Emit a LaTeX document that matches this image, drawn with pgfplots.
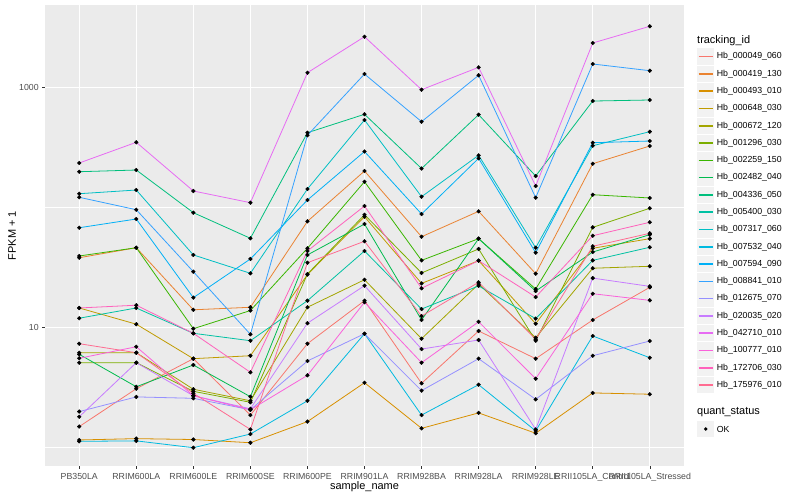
\documentclass[border=0pt]{standalone}
\usepackage{fontspec}
\setmainfont{Liberation Sans}
\usepackage{pgfplots}
\pgfplotsset{compat=1.18}
\usepackage{pgfplotstable}

% ggplot hue palette, 20 levels
\definecolor{c1}{HTML}{F8766D}
\definecolor{c2}{HTML}{EA8331}
\definecolor{c3}{HTML}{D89000}
\definecolor{c4}{HTML}{C09B00}
\definecolor{c5}{HTML}{A3A500}
\definecolor{c6}{HTML}{7CAE00}
\definecolor{c7}{HTML}{39B600}
\definecolor{c8}{HTML}{00BB4E}
\definecolor{c9}{HTML}{00BF7D}
\definecolor{c10}{HTML}{00C1A3}
\definecolor{c11}{HTML}{00BFC4}
\definecolor{c12}{HTML}{00BAE0}
\definecolor{c13}{HTML}{00B0F6}
\definecolor{c14}{HTML}{35A2FF}
\definecolor{c15}{HTML}{9590FF}
\definecolor{c16}{HTML}{C77CFF}
\definecolor{c17}{HTML}{E76BF3}
\definecolor{c18}{HTML}{FA62DB}
\definecolor{c19}{HTML}{FF62BC}
\definecolor{c20}{HTML}{FF6C91}
\definecolor{panel}{HTML}{EBEBEB}
\definecolor{keybg}{HTML}{F2F2F2}
\definecolor{ticktxt}{HTML}{4D4D4D}
\definecolor{tickcol}{HTML}{333333}

% FPKM + 1, one column per tracking_id (s1 = Hb_000049_060 ... s20 = Hb_175976_010)
\pgfplotstableread{
x s1 s2 s3 s4 s5 s6 s7 s8 s9 s10 s11 s12 s13 s14 s15 s16 s17 s18 s19 s20
0 1.50 38.3 1.16 14.6 6.19 5.11 39.6 6.00 199.5 12.0 130.8 1.13 68.1 122.1 2.00 1.81 235.8 5.56 14.6 7.36
1 3.10 46.4 1.19 10.7 6.19 5.11 46.4 3.22 206.1 14.6 140.4 1.14 80.5 96.2 2.65 5.11 350.8 6.94 15.4 6.19
2 5.52 14.1 1.17 5.52 3.07 2.95 9.81 4.89 90.9 8.98 40.4 1.00 17.8 29.3 2.58 2.71 137.8 2.71 8.98 2.84
3 1.87 14.8 1.10 5.84 2.46 2.39 13.9 2.66 55.6 7.79 28.4 1.30 37.4 8.81 2.07 2.11 110.1 2.07 4.25 1.42
4 7.36 77.0 1.65 27.7 14.8 28.0 45.9 40.4 421.7 16.8 143.2 2.46 115.9 401.3 5.28 10.9 1333 4.01 43.6 34.8
5 16.8 202.2 3.48 84.1 25.1 87.4 164.7 73.1 600.3 43.6 538 8.91 294 1300 8.91 22.4 2661 16.3 103.3 52.5
6 3.44 57.3 1.45 23.4 8.10 28.6 36.4 11.6 212.1 14.3 123.5 1.87 88.6 520.9 2.99 6.64 962.3 5.11 21.3 12.5
7 9.39 93.3 1.95 36.2 23.1 45.3 55.2 55.2 595.7 22.3 273.3 3.35 258 1269 5.52 7.90 1479 11.2 36.2 23.9
8 5.52 28.2 1.32 10.8 8.25 7.79 21.0 20.2 183.7 11.9 46.4 1.38 42.2 121.2 2.53 1.42 151.6 3.76 18.0 8.00
9 11.6 232.6 2.86 45.9 31.3 68.6 128.3 42.7 774.5 36.4 328.6 8.53 348 1576 5.84 25.9 2358 19.2 58.4 47.7
10 21.7 326.7 2.79 55.2 32.5 98.9 120.5 59.6 789.8 46.8 429.9 5.62 359.5 1386 7.75 22.1 3249 16.9 75.6 61.2
}\expr

\begin{document}
\begin{tikzpicture}[x=1bp,y=1bp]
\useasboundingbox (0,0) rectangle (800,500);
\begin{axis}[
  at={(45bp,34bp)}, anchor=south west,
  scale only axis, width=639bp, height=461bp,
  xmin=-0.6, xmax=10.6,
  ymode=log, ymin=0.704, ymax=4890,
  axis background/.style={fill=panel},
  axis line style={draw=none},
  xtick={0,...,10},
  xticklabels={PB350LA,RRIM600LA,RRIM600LE,RRIM600SE,RRIM600PE,RRIM901LA,RRIM928BA,RRIM928LA,RRIM928LE,RRII105LA\_Control,RRII105LA\_Stressed},
  ytick={10,1000}, yticklabels={10,1000},
  minor ytick={1,100},
  grid=both,
  major grid style={white, line width=1.1pt},
  minor grid style={white, line width=0.55pt},
  tick pos=left, tick align=outside,
  major tick length=2.75pt, minor tick length=0pt,
  tick style={tickcol, line width=0.5pt},
  ticklabel style={font=\fontsize{8.8}{10}\selectfont, text=ticktxt},
  xticklabel style={yshift=-1pt},
  xlabel={sample\_name}, ylabel={FPKM + 1},
  every axis x label/.style={at={(rel axis cs:0.5,0)}, anchor=center, yshift=-21bp, font=\fontsize{11}{13}\selectfont},
  every axis y label/.style={at={(axis description cs:-0.0516,0.5)}, anchor=center, rotate=90, font=\fontsize{11}{13}\selectfont},
]
\pgfplotsinvokeforeach{1,...,20}{
  \addplot[color=c#1, line width=0.8pt, no marks] table[x=x, y=s#1] {\expr};
}
\pgfplotsinvokeforeach{1,...,20}{
  \addplot[only marks, mark=*, mark size=1.9pt, black] table[x=x, y=s#1] {\expr};
}
\end{axis}

% legend: tracking_id
\node[anchor=west, font=\fontsize{11}{13}\selectfont, inner sep=0] at (697,459.3) {tracking\_id};
\foreach \i/\lab in {1/Hb\_000049\_060, 2/Hb\_000419\_130, 3/Hb\_000493\_010, 4/Hb\_000648\_030,
  5/Hb\_000672\_120, 6/Hb\_001296\_030, 7/Hb\_002259\_150, 8/Hb\_002482\_040, 9/Hb\_004336\_050,
  10/Hb\_005400\_030, 11/Hb\_007317\_060, 12/Hb\_007532\_040, 13/Hb\_007594\_090, 14/Hb\_008841\_010,
  15/Hb\_012675\_070, 16/Hb\_020035\_020, 17/Hb\_042710\_010, 18/Hb\_100777\_010, 19/Hb\_172706\_030,
  20/Hb\_175976\_010} {
  \pgfmathsetmacro{\yy}{443.3-(\i-1)*17.28}
  \edef\keycol{c\i}
  \fill[keybg] (697.3,\yy-8.2) rectangle (714,\yy+8.2);
  \draw[draw=\keycol, line width=1.6bp] (698.7,\yy) -- (712.6,\yy);
  \node[anchor=west, font=\fontsize{8.8}{10}\selectfont, inner sep=0] at (716.7,\yy) {\lab};
}
% legend: quant_status
\node[anchor=west, font=\fontsize{11}{13}\selectfont, inner sep=0] at (697,87.7) {quant\_status};
\fill[keybg] (697.3,71-8.2) rectangle (714,71+8.2);
\fill[black] (705.65,71) circle (1.9pt);
\node[anchor=west, font=\fontsize{8.8}{10}\selectfont, inner sep=0] at (716.7,71) {OK};
\end{tikzpicture}
\end{document}
